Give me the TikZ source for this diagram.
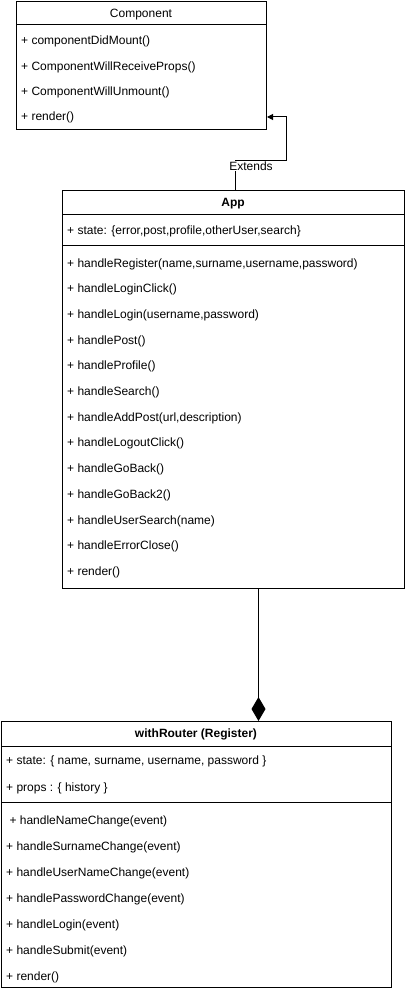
\documentclass[tikz,border=0pt]{standalone}
\usepackage{fontspec}
\setmainfont{Liberation Sans}
\usetikzlibrary{arrows.meta,calc}
\begin{document}
\begin{tikzpicture}[x=1pt,y=-1pt,
  every node/.style={font=\fontsize{12}{14}\selectfont},
  classbox/.style={draw=black,line width=1pt,rectangle,anchor=north west,inner sep=0pt},
  sepline/.style={draw=black,line width=1pt},
  member/.style={anchor=base west,inner sep=0pt},
  title/.style={anchor=base,inner sep=0pt,font=\fontsize{12}{14}\selectfont},
  btitle/.style={anchor=base,inner sep=0pt,font=\fontsize{12}{14}\selectfont\bfseries},
  extarrow/.style={draw=black,line width=1pt,-{Triangle[width=6pt,length=6pt]}},
  comparrow/.style={draw=black,line width=1pt,-{Diamond[width=14pt,length=24pt]}},
  edgelabel/.style={fill=white,inner sep=1pt,font=\fontsize{12}{14}\selectfont}
]
\useasboundingbox (0,0) rectangle (407,992);
\fill[white] (0,0) rectangle (407,992);

% Component
\node[classbox,minimum width=250pt,minimum height=128pt] (comp) at (16,1) {};
\draw[sepline] (16,25) -- (266,25);
\node[title] (ctitle) at (141,17.5) {Component};
\node[member] (c1) at (21,45) {+ componentDidMount()};
\node[member] (c2) at (21,70.5) {+ ComponentWillReceiveProps()};
\node[member] (c3) at (21,95.5) {+ ComponentWillUnmount()};
\node[member] (crender) at (21,121) {+ render()};
\coordinate (crow) at (21,117);

% App
\node[classbox,minimum width=342pt,minimum height=398pt] (app) at (62,190) {};
\draw[sepline] (62,215) -- (404,215);
\draw[sepline] (62,245) -- (404,245);
\node[btitle] (atitle) at (233,207) {App};
\node[member] (astate) at (67,235) {+ state: \{error,post,profile,otherUser,search\}};
\foreach \t [count=\i from 0] in {%
  {+ handleRegister(name,surname,username,password)},
  {+ handleLoginClick()},
  {+ handleLogin(username,password)},
  {+ handlePost()},
  {+ handleProfile()},
  {+ handleSearch()},
  {+ handleAddPost(url,description)},
  {+ handleLogoutClick()},
  {+ handleGoBack()},
  {+ handleGoBack2()},
  {+ handleUserSearch(name)},
  {+ handleErrorClose()},
  {+ render()}}
  \node[member] (am\i) at (67,{267+25.7*\i}) {\t};

% Register
\node[classbox,minimum width=390pt,minimum height=266pt] (reg) at (1,721) {};
\draw[sepline] (1,746) -- (391,746);
\draw[sepline] (1,802) -- (391,802);
\node[btitle] (rtitle) at (196,737) {withRouter (Register)};
\node[member] (rstate) at (6,764) {+ state: \{ name, surname, username, password \}};
\node[member] (rprops) at (6,791) {+ props : \{ history \}};
\foreach \t [count=\i from 0] in {%
  {\hspace{3.3pt}+ handleNameChange(event)},
  {+ handleSurnameChange(event)},
  {+ handleUserNameChange(event)},
  {+ handlePasswordChange(event)},
  {+ handleLogin(event)},
  {+ handleSubmit(event)},
  {+ render()}}
  \node[member] (rm\i) at (6,{824+26*\i}) {\t};

% Extends connector
\draw[extarrow] ([xshift=2pt]app.north) -- ++(0,-29) -| ++(51,-44) -- (comp.east |- crow);
\node[edgelabel] (extlbl) at (251,166) {Extends};

% Composition connector
\draw[comparrow] ([xshift=25pt]app.south) -- ([xshift=62pt]reg.north);
\end{tikzpicture}
\end{document}
